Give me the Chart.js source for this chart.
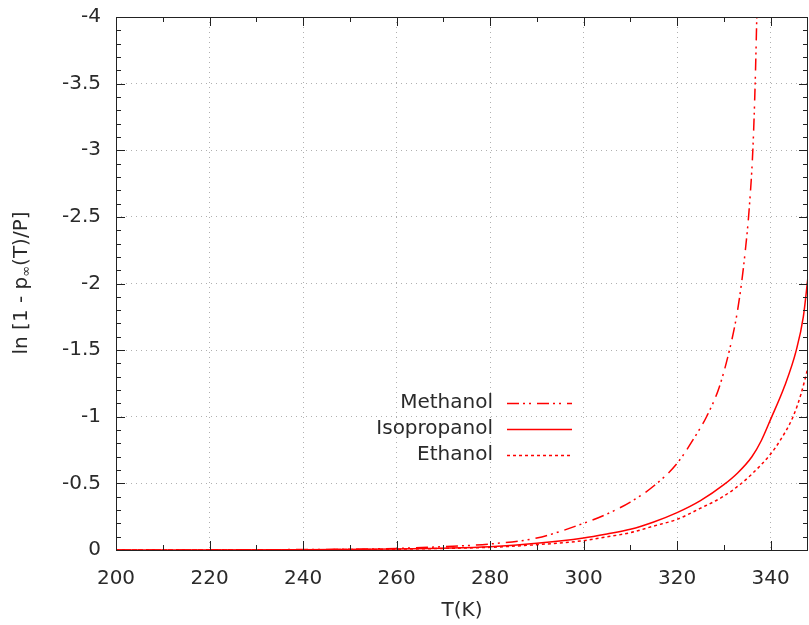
<!DOCTYPE html>
<html>
<head>
<meta charset="utf-8">
<script src="https://cdn.jsdelivr.net/npm/chart.js@4.4.0/dist/chart.umd.min.js"></script>
<style>
html, body { margin: 0; padding: 0; background: #fff; }
#wrap { width: 809px; height: 625px; }
</style>
</head>
<body>
<div id="wrap"><canvas id="vapor"></canvas></div>
<script>
// values
var methanolT = [200, 230, 250, 260, 270, 280, 290, 300, 305, 310, 315, 320, 324, 326.3, 329, 331.2, 332.7, 333.7, 334.6, 335.4, 336.2, 336.7, 337.05];
var methanolY = [0, -0.002, -0.006, -0.012, -0.025, -0.045, -0.09, -0.2, -0.27, -0.36, -0.48, -0.65, -0.86, -1.0, -1.22, -1.5, -1.75, -1.98, -2.25, -2.55, -3.0, -3.5, -4.0];

var isoT = [200, 240, 260, 270, 280, 290, 300, 305, 310, 315, 320, 325, 330, 333, 336, 338, 340, 343, 345.5, 347, 348];
var isoY = [0, -0.002, -0.008, -0.014, -0.025, -0.05, -0.09, -0.12, -0.155, -0.21, -0.28, -0.37, -0.49, -0.58, -0.7, -0.82, -0.98, -1.23, -1.5, -1.75, -2.05];

var ethT = [200, 240, 260, 270, 280, 290, 300, 303.5, 310, 315, 320, 324.8, 329.8, 333.4, 336, 340, 342, 344.8, 346.5, 348];
var ethY = [0, -0.002, -0.006, -0.012, -0.02, -0.04, -0.07, -0.09, -0.13, -0.18, -0.23, -0.31, -0.4, -0.49, -0.57, -0.72, -0.82, -1.0, -1.17, -1.37];

var seriesNames = ["Methanol", "Isopropanol", "Ethanol"];
var xTitle = "T(K)";

function pts(xs, ys) {
	return xs.map(function(x, i) { return { x: x, y: ys[i] }; });
}

var font = "DejaVu Sans";
var textColor = "#2a2a2a";

// gnuplot style frame with inward ticks on all four sides
var frame = {
	id: "frame",
	afterDatasetsDraw: function(chart) {
		var c = chart.ctx, a = chart.chartArea;
		var xs = chart.scales.x, ys = chart.scales.y;
		c.save();
		c.strokeStyle = "#222";
		c.lineWidth = 1;
		c.beginPath();
		c.rect(Math.round(a.left) + 0.5, Math.round(a.top) + 0.5, Math.round(a.right - a.left) - 1, Math.round(a.bottom - a.top));
		for (var t = 200; t <= xs.max; t += 10) {
			var px = Math.round(xs.getPixelForValue(t)) + 0.5;
			var len = (t % 20 === 0) ? 9 : 5;
			c.moveTo(px, a.bottom); c.lineTo(px, a.bottom - len);
			c.moveTo(px, a.top); c.lineTo(px, a.top + len);
		}
		for (var k = 0; k <= 40; k++) {
			var py = Math.round(ys.getPixelForValue(-k / 10)) + 0.5;
			var l2 = (k % 5 === 0) ? 9 : 5;
			c.moveTo(a.left, py); c.lineTo(a.left + l2, py);
			c.moveTo(a.right, py); c.lineTo(a.right - l2, py);
		}
		c.stroke();
		c.restore();
	}
};

// y title with subscript infinity
var yTitle = {
	id: "yTitle",
	afterDraw: function(chart) {
		var c = chart.ctx;
		var parts = [["ln [1 - p", 20, 0], ["\u221e", 13, 5], ["(T)/P]", 20, 0]];
		c.save();
		c.fillStyle = textColor;
		c.textBaseline = "middle";
		c.translate(22, 283);
		c.rotate(-Math.PI / 2);
		var w = 0;
		parts.forEach(function(p) { c.font = p[1] + "px '" + font + "'"; w += c.measureText(p[0]).width; });
		var x = -w / 2;
		parts.forEach(function(p) {
			c.font = p[1] + "px '" + font + "'";
			c.fillText(p[0], x, p[2]);
			x += c.measureText(p[0]).width;
		});
		c.restore();
	}
};

// key: right aligned names, line sample to the right
var key = {
	id: "key",
	afterDraw: function(chart) {
		var c = chart.ctx;
		c.save();
		c.font = "20px '" + font + "'";
		c.textAlign = "right";
		c.textBaseline = "middle";
		chart.data.datasets.forEach(function(ds, i) {
			var y = 403 + i * 26;
			c.fillStyle = textColor;
			c.fillText(ds.label, 493, y);
			c.strokeStyle = ds.borderColor;
			c.lineWidth = ds.borderWidth;
			c.setLineDash(ds.borderDash || []);
			c.beginPath();
			c.moveTo(507, y + 0.5); c.lineTo(572, y + 0.5);
			c.stroke();
		});
		c.restore();
	}
};

var ctx = document.getElementById("vapor");

var chart = new Chart(ctx, {
	type: "line",
	data: {
		datasets: [
			{
				label: seriesNames[0],
				data: pts(methanolT, methanolY),
				borderColor: "#ff0000",
				borderWidth: 1.5,
				borderDash: [12, 4, 2, 4, 2, 6],
				pointRadius: 0,
				cubicInterpolationMode: "monotone",
				fill: false
			},
			{
				label: seriesNames[1],
				data: pts(isoT, isoY),
				borderColor: "#ff0000",
				borderWidth: 1.5,
				borderDash: [],
				pointRadius: 0,
				cubicInterpolationMode: "monotone",
				fill: false
			},
			{
				label: seriesNames[2],
				data: pts(ethT, ethY),
				borderColor: "#ff0000",
				borderWidth: 1.5,
				borderDash: [3, 3],
				pointRadius: 0,
				cubicInterpolationMode: "monotone",
				fill: false
			}
		]
	},
	options: {
		responsive: true,
		maintainAspectRatio: false,
		animation: false,
		layout: { padding: { top: 17, right: 1, left: 0, bottom: 0 } },
		plugins: {
			legend: { display: false },
			tooltip: { enabled: false }
		},
		scales: {
			x: {
				type: "linear",
				min: 200,
				max: 348,
				afterFit: function(s) {
					s.height = 75;
					s.paddingLeft = 0;
					s.paddingRight = 0;
				},
				ticks: {
					stepSize: 20,
					includeBounds: false,
					padding: 17,
					color: textColor,
					font: { family: font, size: 20 },
					maxRotation: 0,
					autoSkip: false
				},
				grid: { color: "#b0b0b0", lineWidth: 1, drawTicks: false },
				border: { display: false, dash: [1, 4] },
				title: {
					display: true,
					text: xTitle,
					color: textColor,
					font: { family: font, size: 20 },
					padding: { top: 0, bottom: 2 }
				}
			},
			y: {
				type: "linear",
				min: -4,
				max: 0,
				reverse: true,
				afterFit: function(s) {
					s.width = 116;
					s.paddingTop = 0;
					s.paddingBottom = 0;
				},
				ticks: {
					stepSize: 0.5,
					padding: 15,
					color: textColor,
					font: { family: font, size: 20 },
					callback: function(v) { return String(v); }
				},
				grid: { color: "#b0b0b0", lineWidth: 1, drawTicks: false },
				border: { display: false, dash: [1, 4] }
			}
		}
	},
	plugins: [frame, yTitle, key]
});
</script>
</body>
</html>
